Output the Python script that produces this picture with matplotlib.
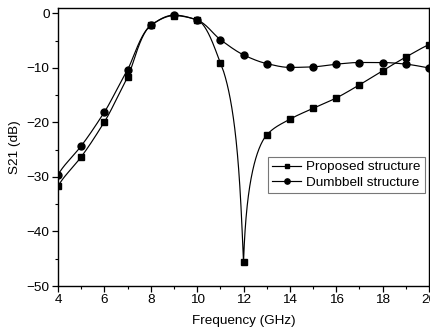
import numpy as np
import matplotlib
matplotlib.use("Agg")
import matplotlib.pyplot as plt
from matplotlib.lines import Line2D

plt.rcParams['font.family'] = ['Liberation Sans', 'DejaVu Sans']

freq = [4, 5, 6, 7, 8, 9, 10, 11, 12, 13, 14, 15, 16, 17, 18, 19, 20]
proposed = [-31.7, -26.3, -19.9, -11.7, -2.2, -0.4, -1.2, -9.0, -45.6,
            -22.3, -19.4, -17.4, -15.5, -13.1, -10.5, -8.0, -5.7]
dumbbell = [-29.6, -24.3, -18.1, -10.3, -2.2, -0.3, -1.2, -4.8, -7.6,
            -9.2, -9.9, -9.8, -9.3, -9.0, -9.0, -9.3, -10.0]
labels = ["Proposed structure", "Dumbbell structure"]


def smooth(x, y_db, sharp=(), n=120):
    """Monotone cubic (PCHIP) through the points, done on linear |S21|."""
    x = np.asarray(x, float)
    y = 10 ** (np.asarray(y_db, float) / 20.0)
    h = np.diff(x)
    d = np.diff(y) / h
    m = np.zeros_like(y)
    for i in range(1, len(y) - 1):
        if d[i - 1] * d[i] > 0:
            m[i] = 2.0 / (1.0 / d[i - 1] + 1.0 / d[i])
    m[0] = d[0]
    m[-1] = d[-1]
    left = m.copy()
    right = m.copy()
    for i in sharp:
        left[i] = 0.15 * d[i - 1]
        right[i] = d[i]
    xs, ys = [], []
    for i in range(len(x) - 1):
        t = np.linspace(0, 1, n)
        h00 = 2 * t**3 - 3 * t**2 + 1
        h10 = t**3 - 2 * t**2 + t
        h01 = -2 * t**3 + 3 * t**2
        h11 = t**3 - t**2
        seg = (h00 * y[i] + h10 * h[i] * right[i] +
               h01 * y[i + 1] + h11 * h[i] * left[i + 1])
        xs.append(x[i] + t * h[i])
        ys.append(20 * np.log10(np.maximum(seg, 1e-6)))
    return np.concatenate(xs), np.concatenate(ys)


fig = plt.figure(figsize=(4.31, 3.33), dpi=100)
ax = fig.add_axes([0.1346, 0.1411, 0.8608, 0.8349])

dip = int(np.argmin(proposed))
xp, yp = smooth(freq, proposed, sharp=[dip])
xd, yd = smooth(freq, dumbbell)
ax.plot(xp, yp, color='black', lw=0.85)
ax.plot(xd, yd, color='black', lw=0.85)
ax.plot(freq, proposed, 's', color='black', ms=4.3, ls='none')
ax.plot(freq, dumbbell, 'o', color='black', ms=5.0, ls='none')

h1 = Line2D([], [], color='black', lw=0.85, marker='s', ms=3.4)
h2 = Line2D([], [], color='black', lw=0.85, marker='o', ms=3.8)
leg = ax.legend([h1, h2], labels, loc='upper right', bbox_to_anchor=(0.988, 0.464),
                borderaxespad=0, fontsize=9.7, handlelength=2.2, handletextpad=0.35,
                labelspacing=0.2, borderpad=0.3, fancybox=False, framealpha=1,
                edgecolor='#777777')
leg.get_frame().set_linewidth(0.8)

ax.set_xlim(4, 20)
ax.set_ylim(-50, 1)
ax.set_xticks([4, 6, 8, 10, 12, 14, 16, 18, 20])
ax.set_xticks(np.arange(5, 20, 2), minor=True)
ax.set_yticks([-50, -40, -30, -20, -10, 0])
ax.set_yticks([-45, -35, -25, -15, -5], minor=True)
ax.tick_params(which='major', direction='out', length=4, width=0.9, labelsize=9.7, pad=2)
ax.tick_params(which='minor', direction='out', length=2.5, width=0.8)
for s in ax.spines.values():
    s.set_linewidth(1.0)
ax.set_xlabel('Frequency (GHz)', fontsize=9.7, labelpad=6)
ax.set_ylabel('S21 (dB)', fontsize=9.7, labelpad=4)

fig.savefig('out.png', dpi=100)
